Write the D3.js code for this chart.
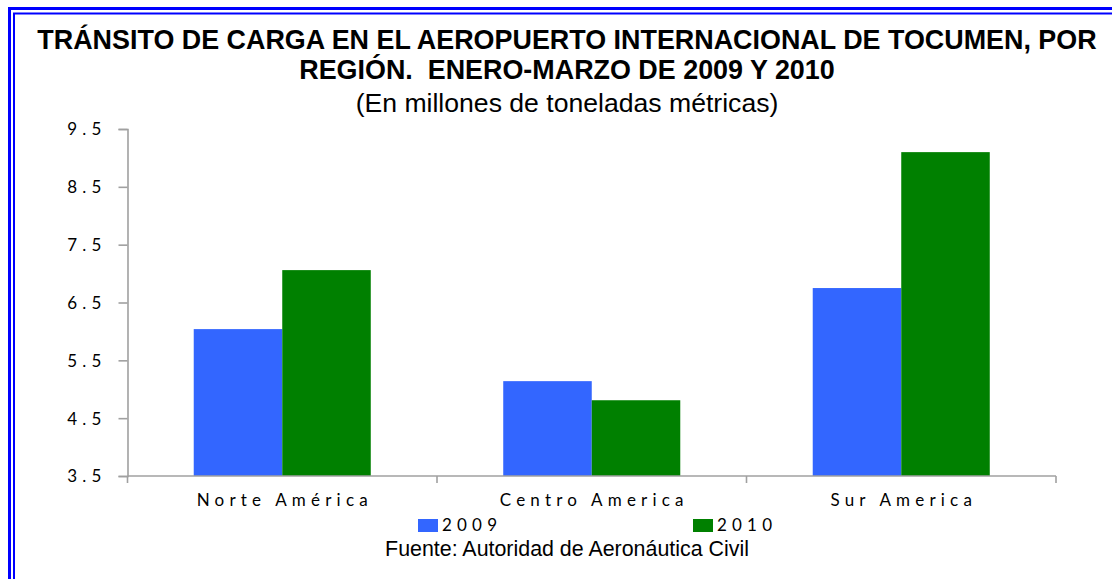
<!DOCTYPE html>
<html>
<head>
<meta charset="utf-8">
<script src="https://cdn.jsdelivr.net/npm/d3@7"></script>
<style>
  body { margin: 0; background: #fff; }
  svg { display: block; }
  .title { font-family: "Liberation Sans", Arial, sans-serif; font-weight: bold; font-size: 26.9px; white-space: pre; }
  .subtitle { font-family: "Liberation Sans", Arial, sans-serif; font-size: 26.6px; }
  .source { font-family: "Liberation Sans", Arial, sans-serif; font-size: 21.4px; }
  .lbl { font-family: Lato, "DejaVu Sans", sans-serif; font-size: 17px; letter-spacing: 5.2px; fill: #000; }
</style>
</head>
<body>
<div id="chart"></div>
<script>
// data
var categories = ['Norte América', 'Centro America', 'Sur America'];
var series = ['2009', '2010'];
var values2009 = [6.04, 5.14, 6.75];
var values2010 = [7.06, 4.81, 9.10];
var yTicks = [3.5, 4.5, 5.5, 6.5, 7.5, 8.5, 9.5];

var colors = { '2009': '#3366FF', '2010': '#008000' };

var width = 1112, height = 579;

var svg = d3.select('#chart').append('svg')
    .attr('width', width)
    .attr('height', height);

// double blue frame (runs off right/bottom edge like the original)
svg.append('rect')
    .attr('x', 9.5).attr('y', 8.5)
    .attr('width', 1200).attr('height', 700)
    .attr('fill', 'none').attr('stroke', '#0000FF').attr('stroke-width', 3);
svg.append('rect')
    .attr('x', 14).attr('y', 13.5)
    .attr('width', 1200).attr('height', 700)
    .attr('fill', 'none').attr('stroke', '#0000FF').attr('stroke-width', 2);

// titles
var cx = 567;
svg.append('text').attr('class', 'title')
    .attr('x', cx).attr('y', 49).attr('text-anchor', 'middle')
    .text('TRÁNSITO DE CARGA EN EL AEROPUERTO INTERNACIONAL DE TOCUMEN, POR');
svg.append('text').attr('class', 'title')
    .attr('x', cx).attr('y', 79).attr('text-anchor', 'middle')
    .text('REGIÓN.  ENERO-MARZO DE 2009 Y 2010');
svg.append('text').attr('class', 'subtitle')
    .attr('x', cx).attr('y', 112).attr('text-anchor', 'middle')
    .text('(En millones de toneladas métricas)');

// scales
var x = d3.scaleBand()
    .domain(categories)
    .range([127.5, 1056])
    .paddingInner(0.428)
    .paddingOuter(0.214);

var xs = d3.scaleBand()
    .domain(series)
    .range([0, x.bandwidth()]);

var y = d3.scaleLinear()
    .domain([3.5, 9.5])
    .range([476, 129]);

var rows = categories.map(function(c, i) {
    return { cat: c, vals: [
        { key: '2009', value: values2009[i] },
        { key: '2010', value: values2010[i] }
    ]};
});

// bars
var groups = svg.append('g').attr('class', 'bars')
    .selectAll('g').data(rows).enter().append('g')
    .attr('transform', function(d) { return 'translate(' + x(d.cat) + ',0)'; });

groups.selectAll('rect').data(function(d) { return d.vals; })
    .enter().append('rect')
    .attr('x', function(d) { return xs(d.key); })
    .attr('y', function(d) { return y(d.value); })
    .attr('width', xs.bandwidth())
    .attr('height', function(d) { return y(3.5) - y(d.value); })
    .attr('fill', function(d) { return colors[d.key]; });

// y axis
var yAxis = svg.append('g')
    .attr('transform', 'translate(' + x.range()[0] + ',0)')
    .call(d3.axisLeft(y).tickValues(yTicks).tickFormat(d3.format('.1f')).tickSize(9).tickPadding(12));
yAxis.select('.domain').attr('stroke', '#a0a0a0').attr('stroke-width', 1.6);
yAxis.selectAll('.tick line').attr('stroke', '#a0a0a0').attr('stroke-width', 1.6);
yAxis.selectAll('.tick text').attr('class', 'lbl').attr('dy', '0.35em');

// x axis: line + boundary ticks + labels
var xAxis = svg.append('g').attr('transform', 'translate(0,' + y(3.5) + ')');
xAxis.append('line')
    .attr('x1', x.range()[0]).attr('x2', x.range()[1])
    .attr('stroke', '#a0a0a0').attr('stroke-width', 1.6);
var gap = (x.step() - x.bandwidth()) / 2;
var bounds = categories.map(function(c) { return x(c) - gap; }).concat([x.range()[1]]);
xAxis.selectAll('line.tk').data(bounds).enter().append('line')
    .attr('class', 'tk')
    .attr('x1', function(d) { return d; }).attr('x2', function(d) { return d; })
    .attr('y1', 0).attr('y2', 7)
    .attr('stroke', '#a0a0a0').attr('stroke-width', 1.6);
xAxis.selectAll('text').data(categories).enter().append('text')
    .attr('class', 'lbl')
    .attr('x', function(d) { return x(d) + x.bandwidth() / 2 + 2.5; })
    .attr('y', 30)
    .attr('text-anchor', 'middle')
    .text(function(d) { return d; });

// legend
var legend = svg.append('g').attr('class', 'legend')
    .selectAll('g').data(series).enter().append('g')
    .attr('transform', function(d, i) { return 'translate(' + (418 + i * 275) + ',519)'; });
legend.append('rect')
    .attr('width', 20).attr('height', 13)
    .attr('fill', function(d) { return colors[d]; });
legend.append('text')
    .attr('class', 'lbl')
    .attr('x', 24).attr('y', 12)
    .text(function(d) { return d; });

// source
svg.append('text').attr('class', 'source')
    .attr('x', cx).attr('y', 556).attr('text-anchor', 'middle')
    .text('Fuente: Autoridad de Aeronáutica Civil');
</script>
</body>
</html>
